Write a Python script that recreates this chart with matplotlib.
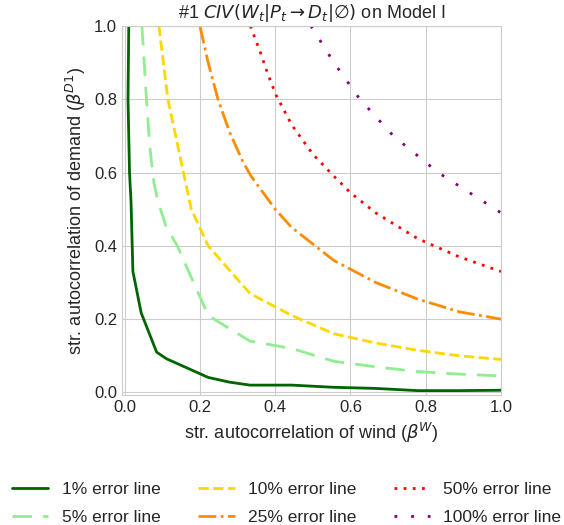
import matplotlib
matplotlib.use("Agg")
import matplotlib.pyplot as plt
import seaborn as sns

sns.set_style("whitegrid")
plt.rcParams['font.family'] = ['Liberation Sans', 'DejaVu Sans']

# error contour lines: (beta_W, beta_D1) pairs
x_1 = [0.011, 0.009, 0.011, 0.013, 0.017, 0.022, 0.044, 0.085, 0.111, 0.222, 0.279, 0.333, 0.444, 0.556, 0.667, 0.778, 0.889, 1.0]
y_1 = [1.0, 0.80, 0.70, 0.60, 0.52, 0.33, 0.217, 0.11, 0.092, 0.041, 0.028, 0.02, 0.02, 0.014, 0.011, 0.005, 0.005, 0.006]

x_5 = [0.046, 0.058, 0.067, 0.078, 0.089, 0.111, 0.14, 0.222, 0.333, 0.444, 0.556, 0.667, 0.778, 0.889, 1.0]
y_5 = [1.0, 0.80, 0.67, 0.57, 0.52, 0.45, 0.40, 0.21, 0.14, 0.12, 0.085, 0.07, 0.057, 0.05, 0.045]

x_10 = [0.091, 0.115, 0.146, 0.177, 0.222, 0.333, 0.444, 0.556, 0.667, 0.778, 0.889, 1.0]
y_10 = [1.0, 0.80, 0.65, 0.50, 0.40, 0.27, 0.21, 0.16, 0.135, 0.115, 0.10, 0.09]

x_25 = [0.20, 0.222, 0.248, 0.279, 0.314, 0.336, 0.40, 0.444, 0.556, 0.667, 0.778, 0.889, 1.0]
y_25 = [1.0, 0.90, 0.80, 0.71, 0.63, 0.59, 0.50, 0.45, 0.36, 0.30, 0.255, 0.22, 0.20]

x_50 = [0.334, 0.36, 0.38, 0.403, 0.444, 0.50, 0.556, 0.60, 0.667, 0.778, 0.889, 1.0]
y_50 = [1.0, 0.93, 0.87, 0.81, 0.73, 0.65, 0.59, 0.545, 0.49, 0.42, 0.37, 0.33]

x_100 = [0.495, 0.556, 0.625, 0.714, 0.833, 1.0]
y_100 = [1.0, 0.90, 0.80, 0.70, 0.60, 0.49]

fig = plt.figure(figsize=(5.64, 5.25), dpi=100)
ax = fig.add_axes([0.2163, 0.2476, 0.672, 0.703])

ax.plot(x_1, y_1, color='darkgreen', lw=2, linestyle='-', label='1% error line')
ax.plot(x_5, y_5, color='lightgreen', lw=2, linestyle=(0, (7, 4)), label='5% error line')
ax.plot(x_10, y_10, color='gold', lw=2, linestyle='--', label='10% error line')
ax.plot(x_25, y_25, color='darkorange', lw=2, linestyle='-.', label='25% error line')
ax.plot(x_50, y_50, color='red', lw=2, linestyle=(0, (1, 2.3)), label='50% error line')
ax.plot(x_100, y_100, color='purple', lw=2, linestyle=(0, (1, 5)), label='100% error line')

ax.set_xlim(-0.007, 1.0)
ax.set_ylim(-0.007, 1.0)
ax.tick_params(labelsize=12, length=0, pad=3.5)
ax.set_xlabel(r"str. autocorrelation of wind ($\beta^W$)", fontsize=13, labelpad=4)
ax.set_ylabel(r"str. autocorrelation of demand ($\beta^{D1}$)", fontsize=13, labelpad=4)
ax.set_title(r"#1 $CIV(W_t|P_t \rightarrow D_t|\varnothing)$ on Model I", fontsize=13)

fig.legend(loc='lower left', bbox_to_anchor=(12 / 564, 0.0), ncol=3, frameon=False,
           fontsize=12.5, handlelength=2.1, handletextpad=0.76, columnspacing=2.17,
           labelspacing=0.75, borderpad=0.0, borderaxespad=0.0)

fig.savefig("out.png", dpi=100)
